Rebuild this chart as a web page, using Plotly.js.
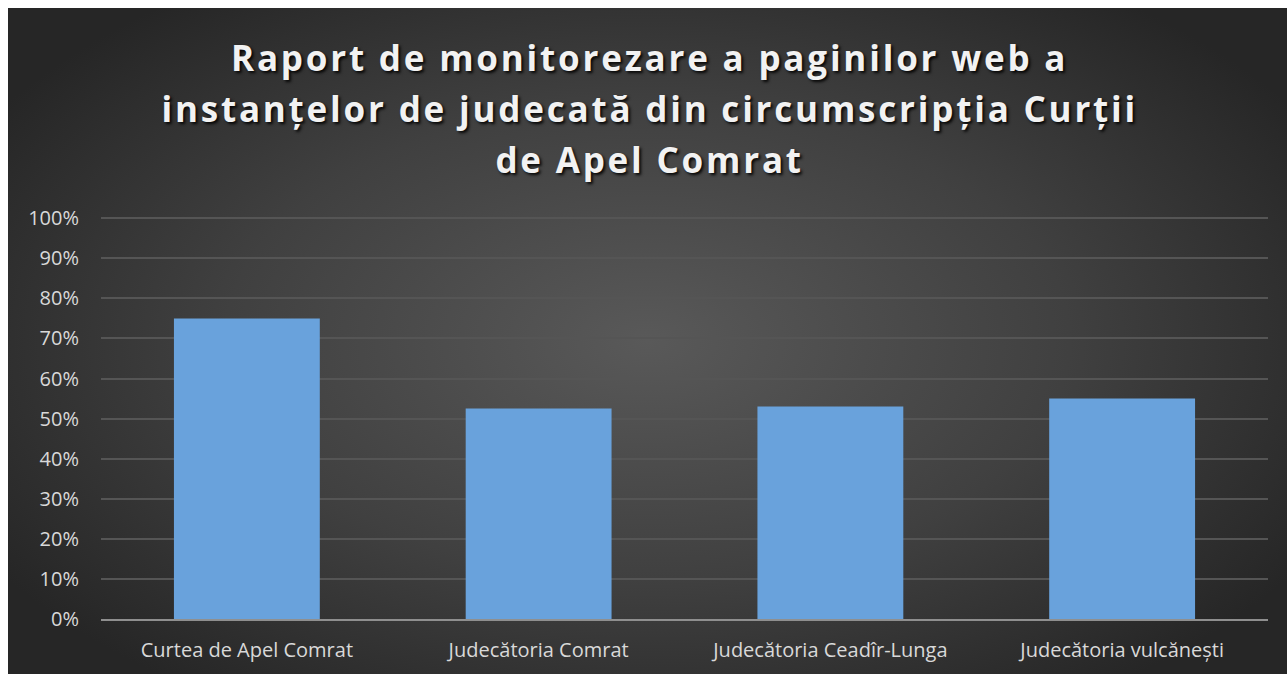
<!DOCTYPE html>
<html>
<head>
<meta charset="utf-8">
<script src="https://cdn.plot.ly/plotly-3.0.1.min.js"></script>
<style>
  html, body { margin: 0; padding: 0; background: #ffffff; }
  #chart {
    position: absolute; left: 8px; top: 8px; width: 1279px; height: 666px;
    background: radial-gradient(ellipse 60% 65% at 50% 50%, #595959 0%, #404040 55%, #262626 100%);
  }
  #chart .title-line .annotation-text {
    letter-spacing: 2.8px;
    text-shadow: 2px 2px 3px rgba(0, 0, 0, 0.9);
  }
</style>
</head>
<body>
<div id="chart"></div>
<script>
// Court names (x categories) and monitoring score share
const courts = ['Curtea de Apel Comrat', 'Judecătoria Comrat', 'Judecătoria Ceadîr-Lunga', 'Judecătoria vulcănești'];
const scores = [0.75, 0.525, 0.53, 0.55];
const yTicks = [0, 0.1, 0.2, 0.3, 0.4, 0.5, 0.6, 0.7, 0.8, 0.9, 1.0];
const yTickLabels = ['0%', '10%', '20%', '30%', '40%', '50%', '60%', '70%', '80%', '90%', '100%'];

// the title is drawn line by line so the line spacing can match
const titleLines = [
    'Raport de monitorezare a paginilor web a',
    'instanțelor de judecată din circumscripția Curții',
    'de Apel Comrat',
];
const titleLineY = [1.397, 1.27, 1.144];

const titleFont = { family: 'Open Sans, sans-serif', size: 35, color: '#f2f2f2', weight: 'bold' };

Plotly.newPlot('chart', [
    {
        x: courts,
        y: scores,
        type: 'bar',
        marker: { color: '#69a2dc', line: { width: 0 } },
        hovertemplate: '%{x}: %{y:.0%}<extra></extra>',
    },
], {
    annotations: titleLines.map((line, i) => ({
        text: line,
        xref: 'paper', yref: 'paper',
        x: 0.47, y: titleLineY[i],
        xanchor: 'center', yanchor: 'middle',
        showarrow: false,
        font: titleFont,
    })),
    xaxis: {
        showgrid: false,
        showline: true, linecolor: '#8f8f8f', linewidth: 2,
        ticks: '',
        ticklabelstandoff: 12,
        tickfont: { family: 'Open Sans, sans-serif', size: 20, color: '#d9d9d9' },
    },
    yaxis: {
        range: [0, 1.003],
        tickvals: yTicks,
        ticktext: yTickLabels,
        showgrid: true, gridcolor: '#555555', gridwidth: 2,
        zeroline: false,
        ticks: '',
        ticklabelstandoff: 21,
        tickfont: { family: 'Open Sans, sans-serif', size: 20, color: '#d9d9d9' },
    },
    bargap: 0.5,
    showlegend: false,
    margin: { t: 209, r: 19, l: 93, b: 55 },
    paper_bgcolor: 'rgba(0,0,0,0)',
    plot_bgcolor: 'rgba(0,0,0,0)',
}, { displayModeBar: false }).then(() => {
    document.querySelectorAll('#chart .annotation').forEach(a => a.classList.add('title-line'));
});
</script>
</body>
</html>
